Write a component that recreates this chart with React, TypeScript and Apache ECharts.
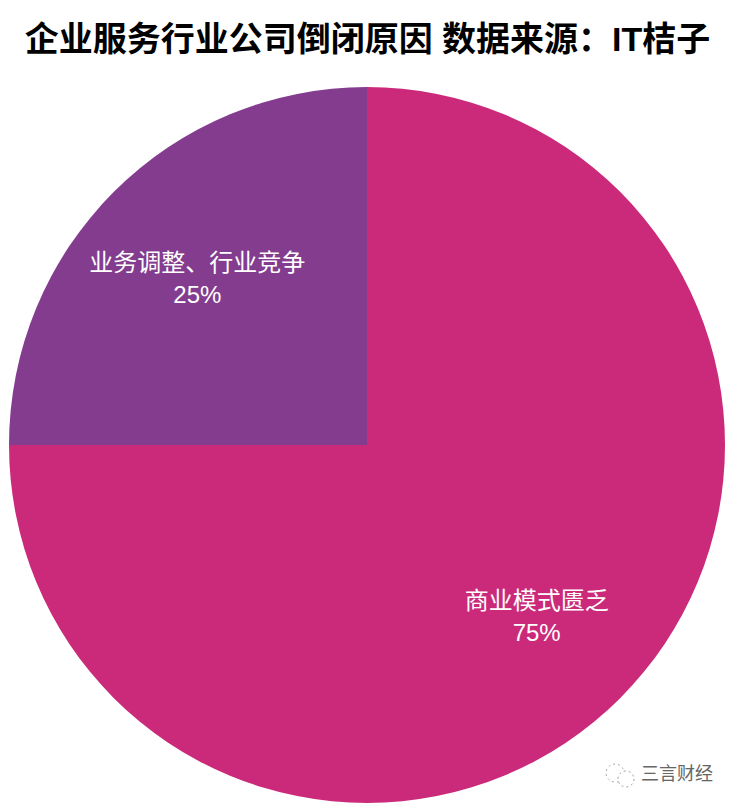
import React, { useEffect, useRef } from "react";
import * as echarts from "echarts";

const categories = ["商业模式匮乏", "业务调整、行业竞争"];
const values = [75, 25];
const colors = ["#CB2A7B", "#833C8E"];
const titleText = "企业服务行业公司倒闭原因 数据来源：IT桔子";
const watermark = "三言财经";
const labelShift = [
  { dx: 41, dy: 43 },
  { dx: -41, dy: -38 },
];
const FONT = "'Liberation Sans', 'Noto Sans CJK SC', sans-serif";

export default function App() {
  const ref = useRef<HTMLDivElement>(null);
  useEffect(() => {
    const chart = echarts.init(ref.current!, undefined, { renderer: "svg" });
    chart.setOption({
      animation: false,
      backgroundColor: "#ffffff",
      title: {
        text: titleText,
        left: "center",
        top: 17,
        textStyle: { fontFamily: FONT, fontSize: 34, fontWeight: "bold", color: "#000" },
      },
      series: [
        {
          type: "pie",
          center: [367, 445],
          radius: [0, 358],
          startAngle: 90,
          clockwise: true,
          silent: true,
          data: categories.map((name, i) => ({
            name,
            value: values[i],
            itemStyle: { color: colors[i] },
          })),
          label: {
            position: "inside",
            formatter: "{b}\n{d}%",
            color: "#fff",
            fontFamily: FONT,
            fontSize: 24,
            lineHeight: 32,
          },
          labelLine: { show: false },
          labelLayout: (p: any) => labelShift[p.dataIndex],
        },
      ],
      graphic: [
        {
          type: "circle",
          shape: { cx: 615, cy: 773, r: 9 },
          style: { fill: "#fff", stroke: "#aaa", lineWidth: 1, lineDash: [2, 3] },
        },
        {
          type: "circle",
          shape: { cx: 626, cy: 779, r: 8 },
          style: { fill: "#fff", stroke: "#999", lineWidth: 1, lineDash: [2, 3] },
        },
        {
          type: "text",
          left: 641,
          top: 765,
          style: { text: watermark, fontFamily: FONT, fontSize: 18, fill: "#666" },
        },
      ],
    });
    return () => chart.dispose();
  }, []);
  return <div ref={ref} style={{ width: 735, height: 808, position: "absolute", left: 0, top: 0 }} />;
}
